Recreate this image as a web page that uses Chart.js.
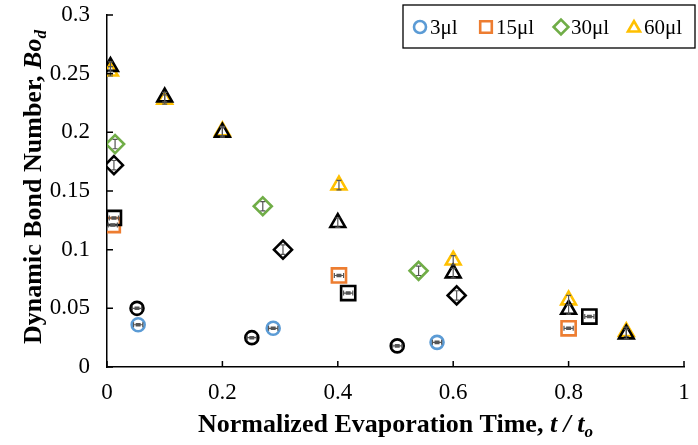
<!DOCTYPE html>
<html>
<head>
<meta charset="utf-8">
<script src="https://cdn.jsdelivr.net/npm/chart.js@4/dist/chart.umd.min.js"></script>
<style>
  html, body { margin: 0; padding: 0; background: #fff; }
  #wrap { width: 698px; height: 445px; }
</style>
</head>
<body>
<div id="wrap"><canvas id="bond"></canvas></div>
<script>
// t / to and Bo_d
const x3 = [0.054, 0.288, 0.572];
const y3 = [0.036, 0.033, 0.021];
const x3b = [0.052, 0.251, 0.503];
const y3b = [0.050, 0.025, 0.018];

const x15 = [0.010, 0.402, 0.800];
const y15 = [0.121, 0.078, 0.033];
const x15b = [0.012, 0.418, 0.836];
const y15b = [0.127, 0.063, 0.043];

const x30 = [0.014, 0.270, 0.540];
const y30 = [0.190, 0.137, 0.082];
const x30b = [0.012, 0.305, 0.606];
const y30b = [0.172, 0.100, 0.061];

const x60 = [0.006, 0.100, 0.200, 0.402, 0.600, 0.800, 0.900];
const y60 = [0.252, 0.228, 0.201, 0.155, 0.091, 0.057, 0.030];
const x60b = [0.006, 0.100, 0.200, 0.400, 0.600, 0.800, 0.900];
const y60b = [0.256, 0.230, 0.200, 0.123, 0.080, 0.049, 0.028];

// error half-widths (x for circles/squares, y for diamonds/triangles)
const xErrSmall = 0.008;
const yErrSmall = 0.004;

const xTicks = [0, 0.2, 0.4, 0.6, 0.8, 1];
const yTicks = [0, 0.05, 0.1, 0.15, 0.2, 0.25, 0.3];

const legendLabels = ['3μl', '15μl', '30μl', '60μl'];

const BLUE = '#5b9bd5', ORANGE = '#ed7d31', GREEN = '#70ad47', YELLOW = '#ffc000', BLACK = '#000';

function pts(xs, ys, ex, ey) {
  return xs.map((x, i) => ({ x, y: ys[i], ex, ey }));
}

function series(label, xs, ys, color, style, radius, ex, ey, order) {
  return {
    label,
    data: pts(xs, ys, ex, ey),
    pointStyle: style,
    pointRadius: radius,
    pointHoverRadius: radius,
    borderColor: color,
    backgroundColor: 'rgba(255,255,255,0)',
    pointBorderWidth: 2.6,
    showLine: false,
    order
  };
}

const datasets = [
  series('3μl', x3, y3, BLUE, 'circle', 6.5, xErrSmall, 0.001, 1),
  series('15μl', x15, y15, ORANGE, 'rect', 10, xErrSmall, 0.001, 1),
  series('30μl', x30, y30, GREEN, 'rectRot', 9, 0, yErrSmall, 1),
  series('60μl', x60, y60, YELLOW, 'triangle', 8.5, 0, yErrSmall, 1),
  series('3μl b', x3b, y3b, BLACK, 'circle', 6.5, xErrSmall, 0.001, 0),
  series('15μl b', x15b, y15b, BLACK, 'rect', 10, xErrSmall, 0.001, 0),
  series('30μl b', x30b, y30b, BLACK, 'rectRot', 9, 0, yErrSmall, 0),
  series('60μl b', x60b, y60b, BLACK, 'triangle', 8.5, 0, yErrSmall, 0)
];

const SERIF = '"Liberation Serif", "Times New Roman", serif';

const extras = {
  id: 'extras',
  afterDatasetsDraw(chart) {
    const { ctx, scales: { x, y } } = chart;
    ctx.save();
    // error bars
    ctx.strokeStyle = '#555';
    ctx.lineWidth = 1.2;
    chart.data.datasets.forEach(ds => {
      ds.data.forEach(p => {
        const px = x.getPixelForValue(p.x), py = y.getPixelForValue(p.y);
        const cap = 2.5;
        ctx.beginPath();
        if (p.ex) {
          const l = x.getPixelForValue(p.x - p.ex), r = x.getPixelForValue(p.x + p.ex);
          ctx.moveTo(l, py); ctx.lineTo(r, py);
          ctx.moveTo(l, py - cap); ctx.lineTo(l, py + cap);
          ctx.moveTo(r, py - cap); ctx.lineTo(r, py + cap);
        }
        if (p.ey) {
          const t = y.getPixelForValue(p.y + p.ey), b = y.getPixelForValue(p.y - p.ey);
          ctx.moveTo(px, t); ctx.lineTo(px, b);
          ctx.moveTo(px - cap, t); ctx.lineTo(px + cap, t);
          ctx.moveTo(px - cap, b); ctx.lineTo(px + cap, b);
        }
        ctx.stroke();
      });
    });

    // inside tick marks
    ctx.strokeStyle = '#000';
    ctx.lineWidth = 1.5;
    ctx.beginPath();
    xTicks.forEach(v => {
      const px = x.getPixelForValue(v);
      ctx.moveTo(px, y.bottom); ctx.lineTo(px, y.bottom - 6);
    });
    yTicks.forEach(v => {
      const py = y.getPixelForValue(v);
      ctx.moveTo(x.left, py); ctx.lineTo(x.left + 6, py);
    });
    ctx.stroke();

    // legend box
    const bx = 403, by = 5, bw = 292, bh = 43;
    ctx.fillStyle = '#fff';
    ctx.fillRect(bx, by, bw, bh);
    ctx.lineWidth = 1.3;
    ctx.strokeRect(bx, by, bw, bh);
    const markX = [420, 486, 561, 634];
    const cy = 27;
    for (let i = 0; i < 4; i++) {
      const ds = chart.data.datasets[i];
      const r = ds.pointRadius;
      ctx.fillStyle = 'rgba(255,255,255,0)';
      ctx.strokeStyle = ds.borderColor;
      ctx.lineWidth = 2.6;
      Chart.helpers.drawPoint(ctx, {
        pointStyle: ds.pointStyle, radius: i === 0 ? 6 : r * 0.82,
        rotation: 0, borderWidth: 2.6
      }, markX[i], cy + (i === 3 ? 1 : 0));
      ctx.font = '21px ' + SERIF;
      ctx.textBaseline = 'middle';
      ctx.textAlign = 'left';
      ctx.fillStyle = '#000';
      ctx.fillText(legendLabels[i], markX[i] + 10, cy + 1);
    }

    // x title
    ctx.fillStyle = '#000';
    ctx.textBaseline = 'alphabetic';
    const t1 = 'Normalized Evaporation Time, ';
    const t2 = 't / t';
    const t3 = 'o';
    const fB = 'bold 26px ' + SERIF, fBI = 'italic bold 26px ' + SERIF, fSub = 'italic bold 17px ' + SERIF;
    ctx.font = fB; const w1 = ctx.measureText(t1).width;
    ctx.font = fBI; const w2 = ctx.measureText(t2).width;
    ctx.font = fSub; const w3 = ctx.measureText(t3).width;
    let sx = (x.left + x.right) / 2 - (w1 + w2 + w3) / 2;
    const base = 432;
    ctx.font = fB; ctx.fillText(t1, sx, base); sx += w1;
    ctx.font = fBI; ctx.fillText(t2, sx, base); sx += w2;
    ctx.font = fSub; ctx.fillText(t3, sx, base + 5);

    // y title
    ctx.translate(41, 187);
    ctx.rotate(-Math.PI / 2);
    const u1 = 'Dynamic Bond Number, ';
    const u2 = 'Bo';
    const u3 = 'd';
    ctx.font = fB; const v1 = ctx.measureText(u1).width;
    ctx.font = fBI; const v2 = ctx.measureText(u2).width;
    ctx.font = fSub; const v3 = ctx.measureText(u3).width;
    let sy = -(v1 + v2 + v3) / 2;
    ctx.font = fB; ctx.fillText(u1, sy, 0); sy += v1;
    ctx.font = fBI; ctx.fillText(u2, sy, 0); sy += v2;
    ctx.font = fSub; ctx.fillText(u3, sy, 5);
    ctx.restore();
  }
};

new Chart(document.getElementById('bond'), {
  type: 'scatter',
  data: { datasets },
  options: {
    responsive: true,
    maintainAspectRatio: false,
    animation: false,
    events: [],
    layout: { padding: { left: 0, right: 14, top: 15, bottom: 0 } },
    plugins: {
      legend: { display: false },
      tooltip: { enabled: false }
    },
    scales: {
      x: {
        type: 'linear',
        min: 0, max: 1,
        afterBuildTicks: s => { s.ticks = xTicks.map(v => ({ value: v })); },
        afterFit: s => { s.height = 78; s.paddingLeft = 0; s.paddingRight = 0; },
        grid: { display: false, drawTicks: false },
        border: { display: true, color: '#000', width: 1.5 },
        ticks: {
          padding: 12,
          color: '#000',
          font: { family: SERIF, size: 23 },
          maxRotation: 0,
          callback: v => String(+v.toFixed(2))
        }
      },
      y: {
        type: 'linear',
        min: 0, max: 0.3,
        afterBuildTicks: s => { s.ticks = yTicks.map(v => ({ value: v })); },
        afterFit: s => { s.width = 107; s.paddingTop = 0; s.paddingBottom = 0; },
        grid: { display: false, drawTicks: false },
        border: { display: true, color: '#000', width: 1.5 },
        ticks: {
          padding: 17,
          color: '#000',
          font: { family: SERIF, size: 23 },
          callback: v => String(+v.toFixed(2))
        }
      }
    }
  },
  plugins: [extras]
});
</script>
</body>
</html>
